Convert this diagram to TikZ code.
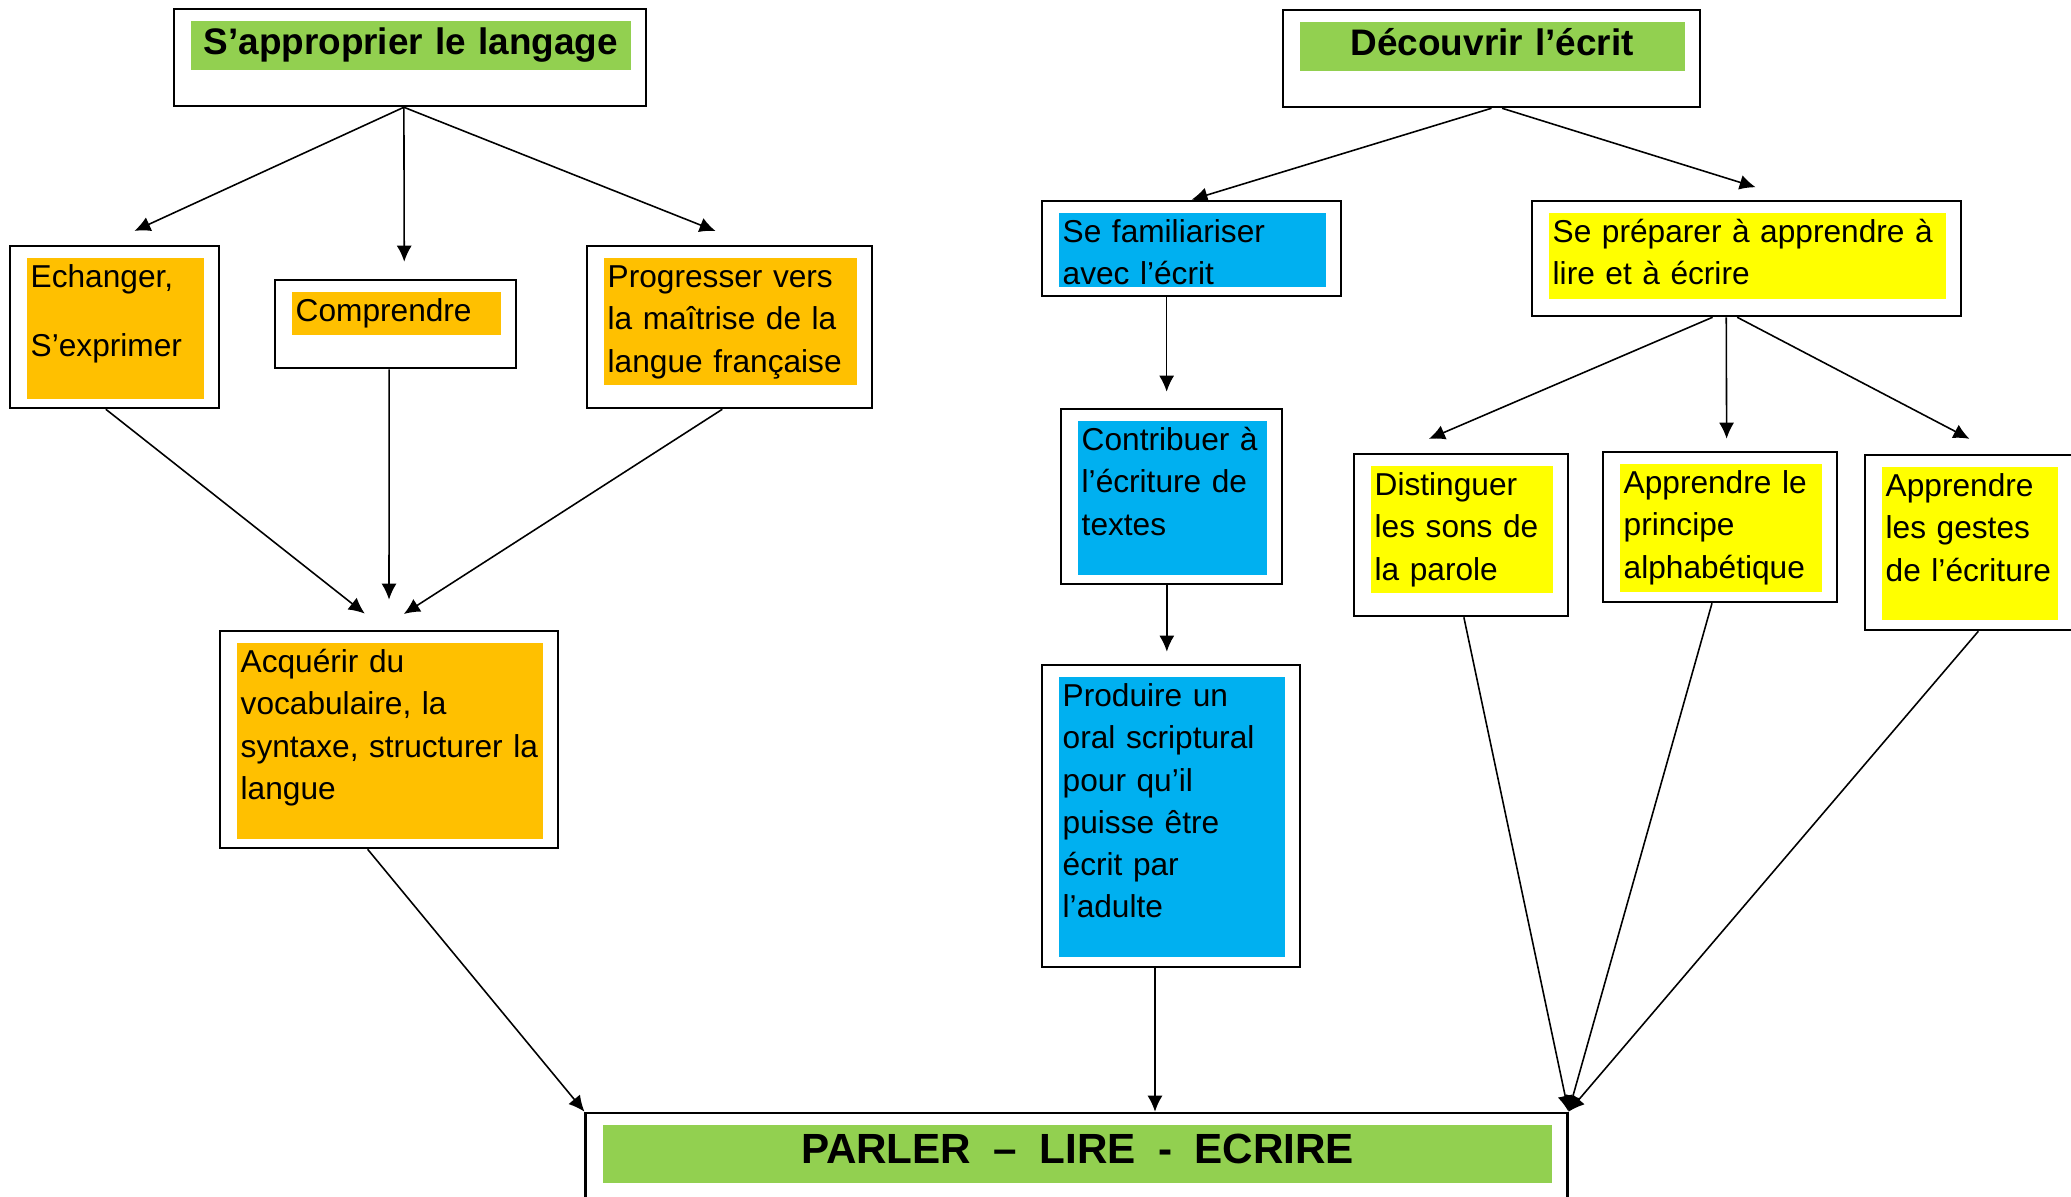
\documentclass[tikz,border=0pt]{standalone}
\usepackage{fontspec}
\setmainfont{Liberation Sans}
\usetikzlibrary{arrows.meta}
\definecolor{leaf}{HTML}{92D050}
\definecolor{amber}{HTML}{FFC000}
\definecolor{sky}{HTML}{00B0F0}
\definecolor{lemon}{HTML}{FFFF00}

\begin{document}
\begin{tikzpicture}[x=0.01cm,y=-0.01cm,
  frame/.style={draw=black,line width=0.7pt,fill=white,inner sep=0pt},
  block/.style={fill=#1,anchor=north west,inner xsep=0.04cm,inner ysep=0pt},
  link/.style={line width=0.45pt,-{Latex[length=0.16cm,width=0.15cm]}}]
\useasboundingbox (0,0) rectangle (2071,1197);
% Titles
\foreach \n/\xa/\ya/\xb/\yb/\yc/\sz/\txt in {
  appro/174/9/646/106/69/10.5/{S’approprier le langage},
  decouv/1283/10/1700/107/70/10.5/{Découvrir l’écrit},
  parler/586/1113/1567/1240/1182/12/{PARLER\hspace{0.53em}–\hspace{0.53em}LIRE\hspace{0.53em}-\hspace{0.53em}ECRIRE}}
{
  \pgfmathsetmacro{\bw}{(\xb-\xa)/100}
  \pgfmathsetmacro{\bh}{(\yb-\ya)/100}
  \pgfmathsetmacro{\tw}{(\xb-\xa-40)/100}
  \pgfmathsetmacro{\th}{3.2*\sz/100}
  \pgfmathsetmacro{\td}{(\yc-\ya-11)/100-\th}
  \node[frame,minimum width=\bw cm,minimum height=\bh cm]
  (\n) at ({(\xa+\xb)/2},{(\ya+\yb)/2}) {};
  \node[block=leaf,align=center,text width=\tw cm,text height=\th cm,text depth=\td cm,
  font=\bfseries\fontsize{\sz}{\sz}\selectfont]
  (\n-t) at (\xa+16,\ya+11) {\txt};
}
% Boxes
\foreach \n/\xa/\ya/\xb/\yb/\yc/\col/\txt in {
  echanger/10/246/219/408/398/amber/{Echanger,\\[0.27cm]S’exprimer},
  comprendre/275/280/516/368/334/amber/{Comprendre},
  progresser/587/246/872/408/384/amber/{Progresser vers\\la maîtrise de la\\langue française},
  acquerir/220/631/558/848/838/amber/{Acquérir du\\vocabulaire, la\\syntaxe, structurer la\\langue},
  familiariser/1042/201/1341/296/286/sky/{Se familiariser\\avec l’écrit},
  preparer/1532/201/1961/316/298/lemon/{Se préparer à apprendre à\\lire et à écrire},
  contribuer/1061/409/1282/584/574/sky/{Contribuer à\\l’écriture de\\textes},
  produire/1042/665/1300/967/956/sky/{Produire un\\oral scriptural\\pour qu’il\\puisse être\\écrit par\\l’adulte},
  distinguer/1354/454/1568/616/592/lemon/{Distinguer\\les sons de\\la parole},
  principe/1603/452/1837/602/591/lemon/{Apprendre le\\principe\\alphabétique},
  gestes/1865/455/2073/630/619/lemon/{Apprendre\\les gestes\\de l’écriture}}
{
  \pgfmathsetmacro{\bw}{(\xb-\xa)/100}
  \pgfmathsetmacro{\bh}{(\yb-\ya)/100}
  \pgfmathsetmacro{\tw}{(\xb-\xa-40)/100}
  \pgfmathsetmacro{\td}{(\yc-\ya-41)/100}
  \node[frame,minimum width=\bw cm,minimum height=\bh cm]
  (\n) at ({(\xa+\xb)/2},{(\ya+\yb)/2}) {};
  \node[block=\col,align=left,text width=\tw cm,text height=0.3cm,text depth=\td cm,
  font=\fontsize{9}{12}\selectfont]
  (\n-t) at (\xa+16,\ya+11) {\txt};
}
% S'approprier le langage
\draw[link,shorten >=0.33cm] (appro.-97) -- (echanger.97);
\draw[link,shorten >=0.17cm] (appro.-97) -- (comprendre.79);
\draw[link,shorten >=0.37cm] (appro.-97) -- (progresser.76);
\draw[link,shorten >=0.26cm] (echanger.-96) -- (acquerir.92);
\draw[link,shorten >=0.30cm] (comprendre.-98) -- (acquerir.90);
\draw[link,shorten >=0.29cm] (progresser.-95) -- (acquerir.95);
\draw[link] (acquerir.-101) -- (parler.north west);
% Decouvrir l'ecrit
\draw[link] (decouv.south) -- (familiariser.north);
\draw[link,shorten >=0.42cm] (decouv.-78) -- (preparer.50);
\draw[link,shorten >=0.16cm] (familiariser.-117) -- (familiariser.-117 |- contribuer.north);
\draw[link,shorten >=0.12cm] (contribuer.-93) -- (contribuer.-93 |- produire.north);
\draw[link] (produire.-96) -- (produire.-96 |- parler.north);
\draw[link,shorten >=0.35cm] (preparer.-120) -- (distinguer.128);
\draw[link,shorten >=0.12cm] (preparer.-109) -- (principe.85);
\draw[link,shorten >=0.32cm] (preparer.-99) -- (gestes.72);
% Towards PARLER - LIRE - ECRIRE
\draw[link] (distinguer.-88) -- (parler.north east);
\draw[link] (principe.-96) -- (parler.north east);
\draw[link] (gestes.-84) -- (parler.north east);
\end{tikzpicture}
\end{document}
